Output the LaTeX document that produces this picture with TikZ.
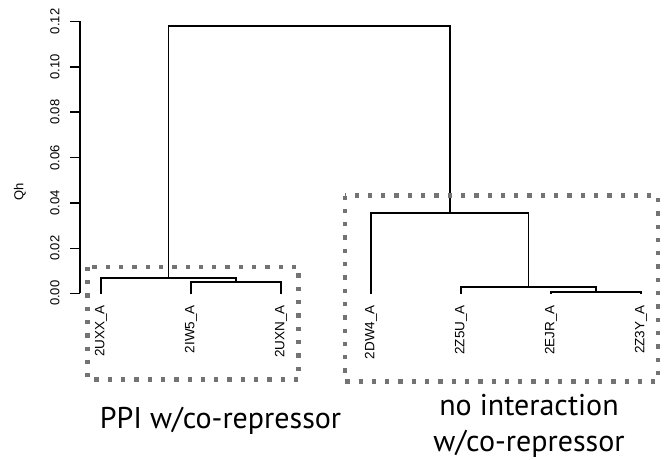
\documentclass[tikz,border=0pt]{standalone}
\usepackage{fontspec}
\setmainfont{Liberation Sans}
\newfontfamily\capfont{PT Sans}
\begin{document}
\begin{tikzpicture}[x=1pt,y=-1pt,
  branch/.style={draw=black,line width=1.8pt,line cap=rect},
  axisline/.style={draw=black,line width=1.5pt},
  ticklabel/.style={rotate=90,font=\fontsize{13}{15}\selectfont,inner sep=0pt},
  leaflabel/.style={rotate=90,anchor=east,font=\fontsize{13.5}{15}\selectfont,inner sep=0pt},
  groupbox/.style={draw=black!55,line width=4.3pt,dash pattern=on 4.3pt off 9pt},
  caption/.style={font=\capfont\fontsize{30}{36}\selectfont,anchor=base,inner sep=0pt}]
\useasboundingbox (0,0) rectangle (667,459);

% y axis (Qh)
\draw[axisline] (80,21) -- (80,293.3);
\foreach \v/\y in {0.00/293.3,0.02/248.3,0.04/202.9,0.06/157.6,0.08/112.2,0.10/66.8,0.12/21.4}{
  \draw[axisline] (70,\y) -- (80,\y);
  \node[ticklabel] at (55,\y) {\v};
}
\node[ticklabel] (qh) at (20,192) {Qh};

% leaves
\foreach \n/\x in {uxx/101,iwf/191,uxn/281,dw/371,zfu/461,ejr/551,zty/641}
  \coordinate (\n) at (\x,293.3);
\node[leaflabel] (luxx) at (101,305) {2UXX\_A};
\node[leaflabel] (liwf) at (191,305) {2IW5\_A};
\node[leaflabel] (luxn) at (281,305) {2UXN\_A};
\node[leaflabel] (ldw)  at (371,305) {2DW4\_A};
\node[leaflabel] (lzfu) at (461,305) {2Z5U\_A};
\node[leaflabel] (lejr) at (551,305) {2EJR\_A};
\node[leaflabel] (lzty) at (641,305) {2Z3Y\_A};

% merge points
\coordinate (m1) at (236,281.7);
\coordinate (m2) at (168.5,278.3);
\coordinate (m3) at (596,292.3);
\coordinate (m4) at (528.5,287.3);
\coordinate (m5) at (449.75,212.7);
\coordinate (root) at (309,25.7);

% branches
\draw[branch] (iwf) |- (m1) -| (uxn);
\draw[branch] (uxx) |- (m2) -| (m1);
\draw[branch] (ejr) |- (m3) -| (zty);
\draw[branch] (zfu) |- (m4) -| (m3);
\draw[branch] (dw) |- (m5) -| (m4);
\draw[branch] (m2) |- (root) -| (m5);

% groups
\draw[groupbox] (87.5,266.7) rectangle (298.5,379.5);
\draw[groupbox] (345,195.5) rectangle (658,381.5);
\node[caption] (c1) at (220.5,428) {PPI w/co-repressor};
\node[caption] (c2a) at (529,415) {no interaction};
\node[caption] (c2b) at (529,451) {w/co-repressor};
\end{tikzpicture}
\end{document}
